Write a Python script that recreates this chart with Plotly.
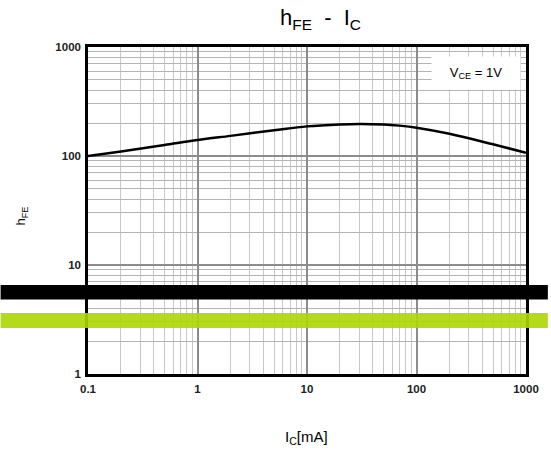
import plotly.graph_objects as go

# Data
ic_ma = [0.1, 0.2, 0.5, 1, 2, 5, 10, 20, 30, 50, 70, 100, 200, 500, 1000]
hfe = [100, 110, 126, 140, 153, 172, 187, 195, 197, 195, 190, 182, 160, 128, 107]

x_ticks = [0.1, 1, 10, 100, 1000]
x_ticktext = ["0.1", "1", "10", "100", "1000"]
y_ticks = [1, 10, 100, 1000]
y_ticktext = ["1", "10", "100", "1000"]

x_minor = [m * 10 ** e for e in range(-1, 3) for m in range(2, 10)]
y_minor = [m * 10 ** e for e in range(0, 3) for m in range(2, 10)]

fig = go.Figure()
fig.add_trace(go.Scatter(x=ic_ma, y=hfe, mode="lines", line=dict(color="black", width=2.5, shape="spline"),
                         showlegend=False, hoverinfo="skip"))

font = "Liberation Sans, Arial, sans-serif"

L, R, T, B = 88, 22, 47, 79
W, H = 551, 453

fig.update_layout(
    width=W, height=H,
    margin=dict(l=L, r=R, t=T, b=B),
    paper_bgcolor="white", plot_bgcolor="white",
    font=dict(family=font, color="black"),
    showlegend=False,
    xaxis=dict(type="log", range=[-1, 3], tickvals=x_ticks, ticktext=x_ticktext,
               showgrid=True, gridcolor="#8c8c8c", gridwidth=1.5,
               minor=dict(tickvals=x_minor, showgrid=True, gridcolor="#c8c8c8", gridwidth=1, ticks=""),
               showline=True, linecolor="black", linewidth=2.5, mirror=True,
               ticks="", ticklabelstandoff=2,
               tickfont=dict(size=11.5, family=font, weight="bold", color="#222"), zeroline=False),
    yaxis=dict(type="log", range=[0, 3], tickvals=y_ticks, ticktext=y_ticktext,
               showgrid=True, gridcolor="#8c8c8c", gridwidth=1.5,
               minor=dict(tickvals=y_minor, showgrid=True, gridcolor="#b4b4b4", gridwidth=1, ticks=""),
               showline=True, linecolor="black", linewidth=2.5, mirror=True,
               ticks="", ticklabelstandoff=2,
               tickfont=dict(size=11.5, family=font, weight="bold", color="#222"), zeroline=False),
)

pw, ph = W - L - R, H - T - B
def px(x):
    return (x - L) / pw
def py(y):
    return (H - B - y) / ph

fig.add_annotation(x=px(322), y=py(19), xref="paper", yref="paper",
                   text="h<sub>FE</sub>  -  I<sub>C</sub>",
                   showarrow=False, font=dict(size=22, family=font), xanchor="center", yanchor="middle")
fig.add_annotation(x=px(22), y=py(216), xref="paper", yref="paper", text="h<sub>FE</sub>", textangle=-90,
                   showarrow=False, font=dict(size=13, family=font), xanchor="center", yanchor="middle")
fig.add_annotation(x=px(308), y=py(437), xref="paper", yref="paper", text="I<sub>C</sub>[mA]",
                   showarrow=False, font=dict(size=15, family=font), xanchor="center", yanchor="middle")
fig.add_annotation(x=px(479), y=py(73), xref="paper", yref="paper", text="V<sub>CE</sub> = 1V",
                   showarrow=False, font=dict(size=13, family=font), xanchor="center", yanchor="middle",
                   bgcolor="white", borderpad=0, width=88, height=32)

# Overlay bands
fig.add_shape(type="rect", xref="paper", yref="paper", x0=px(0), x1=px(W), y0=py(285), y1=py(299.5),
              fillcolor="black", line=dict(width=0), layer="above")
fig.add_shape(type="rect", xref="paper", yref="paper", x0=px(0), x1=px(W), y0=py(313), y1=py(328),
              fillcolor="#acd600", opacity=0.9, line=dict(width=0), layer="above")

fig.write_html("out.html", config={"displayModeBar": False},
               post_script="document.body.style.margin='0';")
